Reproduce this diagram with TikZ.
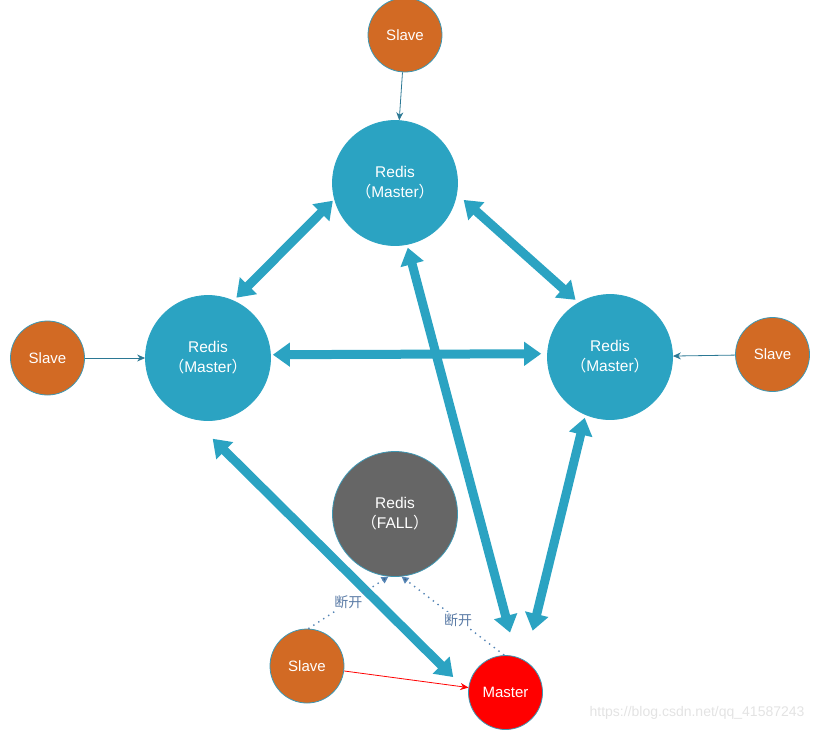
\documentclass[tikz,border=0pt]{standalone}
\usepackage{fontspec}
\setmainfont{Liberation Sans}
\newfontfamily\cjk{Noto Sans CJK SC}
\usetikzlibrary{arrows.meta}
\definecolor{redisteal}{HTML}{2BA3C2}
\definecolor{slaveorange}{HTML}{D26A24}
\definecolor{failgray}{HTML}{666666}
\definecolor{rimteal}{HTML}{3E97B3}
\definecolor{thinteal}{HTML}{2B7894}
\definecolor{dotblue}{HTML}{5585B5}
\definecolor{lblblue}{HTML}{5A7BA6}
\tikzset{
  redisnode/.style={circle, draw=redisteal, fill=redisteal, line width=0.8pt, minimum size=125pt, inner sep=0pt, text=white, font=\fontsize{15.5}{20}\selectfont, align=center},
  failnode/.style={redisnode, fill=failgray, draw=rimteal},
  slavenode/.style={circle, draw=rimteal, fill=slaveorange, line width=0.8pt, minimum size=74pt, inner sep=0pt, text=white, font=\fontsize{15}{18}\selectfont},
  newmaster/.style={slavenode, fill=red},
  bigarrow/.style={draw=redisteal, line width=9pt, {Triangle[width=23pt,length=17pt]}-{Triangle[width=23pt,length=17pt]}},
  thinarrow/.style={draw=thinteal, line width=0.8pt, -{Stealth[length=8pt,width=7pt]}},
  redarrow/.style={draw=red, line width=0.8pt, -{Stealth[length=8pt,width=7pt]}},
  cutline/.style={draw=dotblue, line width=1.4pt, dash pattern=on 1.4pt off 4.5pt, -{Triangle[length=7pt,width=7pt,fill=dotblue!70!black]}},
  cutlabel/.style={text=lblblue, font=\cjk\fontsize{14}{15}\selectfont, fill=white, inner sep=1pt}
}
\begin{document}
\begin{tikzpicture}[x=1pt,y=-1pt]
\useasboundingbox (0,0) rectangle (818,732);
% nodes
\node[slavenode] (ts) at (405,35) {Slave};
\node[redisnode] (tm) at (395,183) {Redis\\{\cjk（}Master{\cjk）}};
\node[redisnode] (lm) at (208,358) {Redis\\{\cjk（}Master{\cjk）}};
\node[redisnode] (rm) at (610,357) {Redis\\{\cjk（}Master{\cjk）}};
\node[slavenode] (ls) at (47.5,358) {Slave};
\node[slavenode] (rs) at (772.5,354.5) {Slave};
\node[failnode] (fm) at (395,514) {Redis\\{\cjk（}FALL{\cjk）}};
\node[slavenode] (bs) at (307,666) {Slave};
\node[newmaster] (nm) at (505.5,692.5) {Master};
% thick double arrows
\draw[bigarrow, shorten <=2pt, shorten >=4pt] (tm.195) -- (lm.66);
\draw[bigarrow, shorten <=9pt, shorten >=4pt] (tm.-10) -- (rm.120);
\draw[bigarrow, shorten <=2pt, shorten >=6pt] (lm.3) -- (rm.177);
\draw[bigarrow, shorten <=28pt, shorten >=21pt] (lm.256) -- (nm.179);
\draw[bigarrow, shorten <=3pt, shorten >=25pt] (tm.-79) -- (nm.73);
\draw[bigarrow, shorten <=3pt, shorten >=31pt] (rm.247) -- (nm.58);
% thin slave arrows
\draw[thinarrow] (ts) -- (tm);
\draw[thinarrow] (ls) -- (lm);
\draw[thinarrow] (rs) -- (rm);
\draw[redarrow] (bs) -- (nm);
% broken links
\draw[cutline] (bs.88) -- (fm.-96) node[cutlabel, pos=0.5] {断开};
\draw[cutline] (nm.92) -- (fm.-84) node[cutlabel, pos=0.45] {断开};
% watermark
\node[text=black!11, font=\fontsize{14}{16}\selectfont, anchor=east] (wm) at (808,713) {https://blog.csdn.net/qq\_41587243};
\end{tikzpicture}
\end{document}
